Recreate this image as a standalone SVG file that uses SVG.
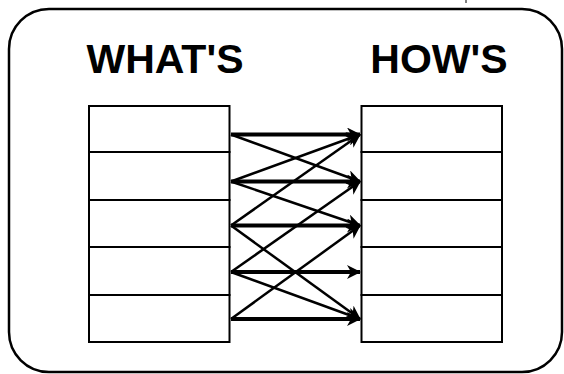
<svg xmlns="http://www.w3.org/2000/svg" width="564" height="374" viewBox="0 0 564 374">
<style>
.box{fill:#fff;stroke:#000;stroke-width:2}
.frame{fill:#fff;stroke:#000;stroke-width:2.5}
.title{font-family:"Liberation Sans",Arial,sans-serif;font-weight:bold;font-size:41px;fill:#000;text-anchor:middle}
.thick{stroke:#000;stroke-width:4;fill:none;marker-end:url(#ah)}
.thin{stroke:#000;stroke-width:2.5;fill:none;marker-end:url(#ah)}
</style>
<defs>
<marker id="ah" markerUnits="userSpaceOnUse" viewBox="0 0 14 14" markerWidth="14" markerHeight="14" refX="13" refY="7" orient="auto">
<path d="M0,0 L14,7 L0,14 L4,7 Z" fill="#000"/>
</marker>
</defs>
<rect class="frame" x="9" y="9" width="553" height="363" rx="40" ry="40"/>
<path d="M466,0 L466,3" stroke="#000" stroke-width="1"/>
<text class="title" x="165" y="72.5">WHAT'S</text>
<text class="title" x="439" y="72.5">HOW'S</text>
<g id="whats">
<rect class="box" x="89" y="106" width="140.5" height="46"/>
<rect class="box" x="89" y="152" width="140.5" height="48"/>
<rect class="box" x="89" y="200" width="140.5" height="47"/>
<rect class="box" x="89" y="247" width="140.5" height="48"/>
<rect class="box" x="89" y="295" width="140.5" height="47"/>
</g>
<g id="hows">
<rect class="box" x="361.5" y="106" width="140.5" height="46"/>
<rect class="box" x="361.5" y="152" width="140.5" height="48"/>
<rect class="box" x="361.5" y="200" width="140.5" height="47"/>
<rect class="box" x="361.5" y="247" width="140.5" height="48"/>
<rect class="box" x="361.5" y="295" width="140.5" height="47"/>
</g>
<g id="connectors">
<path class="thick" d="M231,134.5 L360,134.5"/>
<path class="thick" d="M231,181.5 L360,181.5"/>
<path class="thick" d="M231,225.5 L360,225.5"/>
<path class="thick" d="M231,272 L360,272"/>
<path class="thick" d="M231,319 L360,319"/>
<path class="thin" d="M231,134.5 L360,181.5"/>
<path class="thin" d="M231,181.5 L360,134.5"/>
<path class="thin" d="M231,225.5 L360,134.5"/>
<path class="thin" d="M231,181.5 L360,225.5"/>
<path class="thin" d="M231,272 L360,181.5"/>
<path class="thin" d="M231,225.5 L360,319"/>
<path class="thin" d="M231,319 L360,225.5"/>
<path class="thin" d="M231,272 L360,319"/>
</g>
</svg>
